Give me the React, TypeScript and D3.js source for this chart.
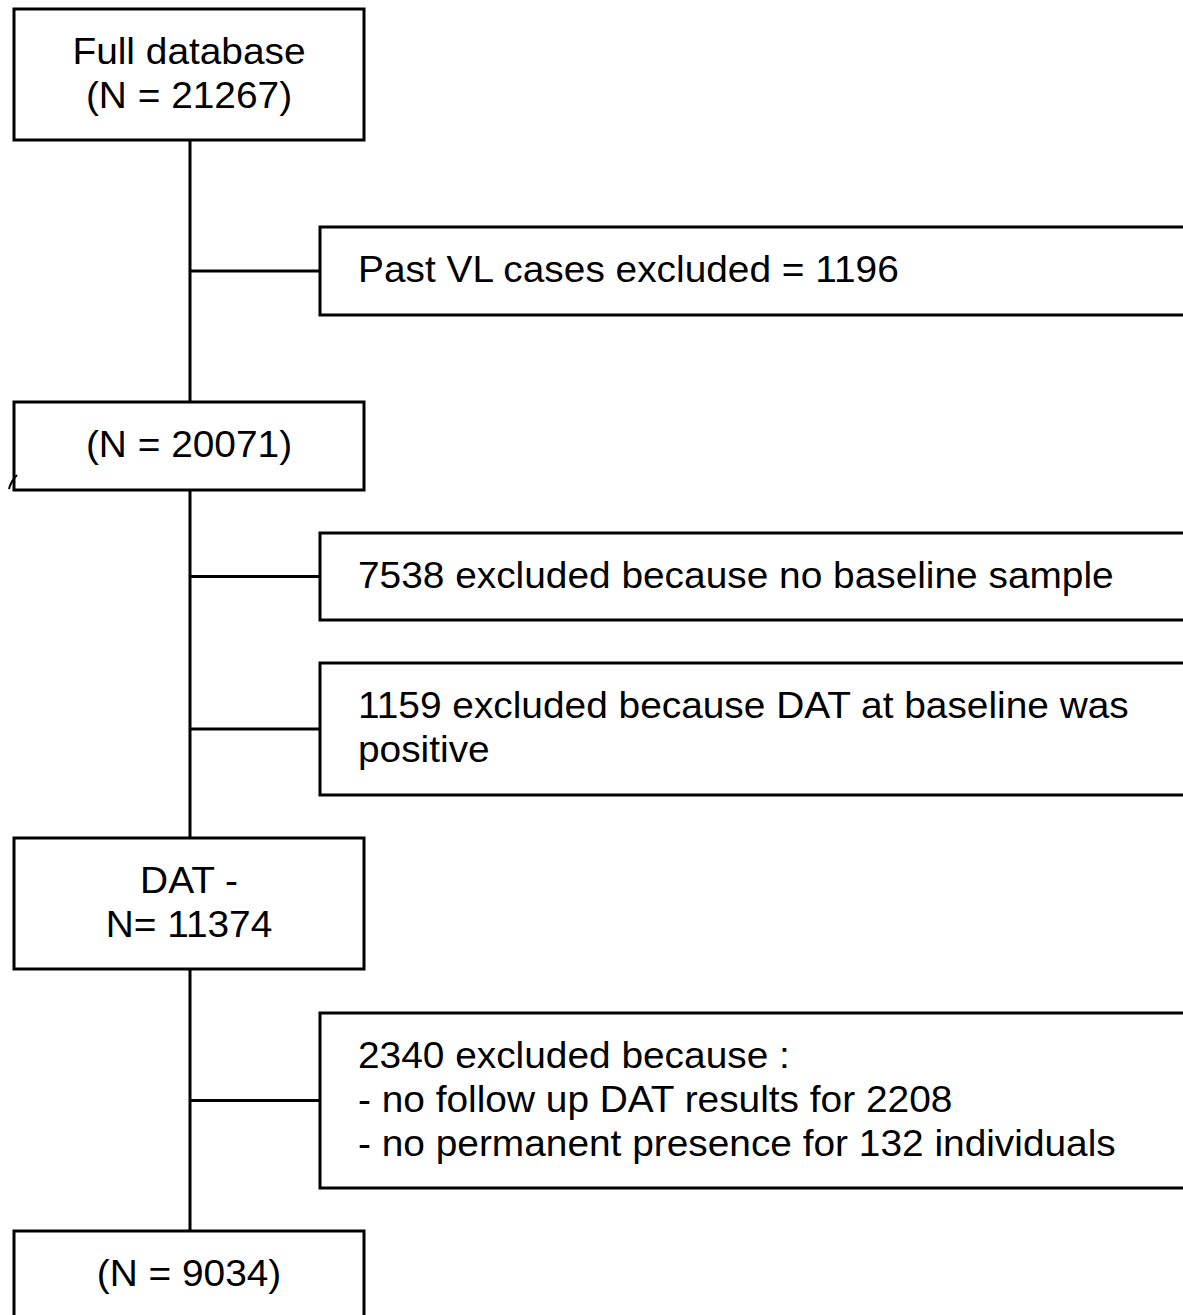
import React, { useEffect, useRef } from "react";
import * as d3 from "d3";

const width = 1183;
const height = 1315;

// box texts, top to bottom
const mainLabels: string[][] = [
  ["Full database", "(N = 21267)"],
  ["(N = 20071)"],
  ["DAT -", "N= 11374"],
  ["(N = 9034)"],
];

const sideLabels: string[][] = [
  ["Past VL cases excluded = 1196"],
  ["7538 excluded because no baseline sample"],
  ["1159 excluded because DAT at baseline was", "positive"],
  [
    "2340 excluded because :",
    "- no follow up DAT results for 2208",
    "- no permanent presence for 132 individuals",
  ],
];

// layout (tops / heights in px)
const mainTop = [9, 402, 838, 1231];
const mainHeight = [131, 88, 131, 88];
const sideTop = [227, 533, 663, 1013];
const sideHeight = [88, 87, 132, 175];

const layout = {
  mainLeft: 14,
  mainRight: 364,
  spineX: 190,
  sideLeft: 320,
  sideRight: 1200,
  textPad: 38,
  lineHeight: 44,
  fontSize: 37,
  stretch: 1.05,
  stroke: 3,
};

const FlowChart = () => {
  const ref = useRef<SVGSVGElement | null>(null);

  const chart = () => {
    const svg = d3
      .select(ref.current)
      .attr("width", width)
      .attr("height", height)
      .attr("viewBox", [0, 0, width, height].join(" "))
      .attr("style", "position:absolute;left:0;top:0;background:#fff");
    svg.selectAll("*").remove();

    svg.append("rect").attr("width", width).attr("height", height).attr("fill", "#fff");

    // spine
    svg
      .append("line")
      .attr("x1", layout.spineX)
      .attr("x2", layout.spineX)
      .attr("y1", mainTop[0])
      .attr("y2", mainTop[mainTop.length - 1])
      .attr("stroke", "#000")
      .attr("stroke-width", layout.stroke);

    // connectors to side boxes
    svg
      .append("g")
      .selectAll("line")
      .data(sideLabels)
      .join("line")
      .attr("x1", layout.spineX)
      .attr("x2", layout.sideLeft)
      .attr("y1", (_, i) => sideTop[i] + sideHeight[i] / 2)
      .attr("y2", (_, i) => sideTop[i] + sideHeight[i] / 2)
      .attr("stroke", "#000")
      .attr("stroke-width", layout.stroke);

    const font = "Liberation Sans, Arial, Helvetica, sans-serif";
    const baseOffset = layout.fontSize * 0.31;

    // main boxes
    const mains = svg.append("g").selectAll("g").data(mainLabels).join("g");
    mains
      .append("rect")
      .attr("x", layout.mainLeft)
      .attr("y", (_, i) => mainTop[i])
      .attr("width", layout.mainRight - layout.mainLeft)
      .attr("height", (_, i) => mainHeight[i])
      .attr("fill", "#fff")
      .attr("stroke", "#000")
      .attr("stroke-width", layout.stroke);
    mains.each(function (lines, i) {
      const cx = (layout.mainLeft + layout.mainRight) / 2;
      const cy = mainTop[i] + mainHeight[i] / 2;
      const first = cy - ((lines.length - 1) * layout.lineHeight) / 2 + baseOffset;
      d3.select(this)
        .append("g")
        .attr("transform", `translate(${cx},0) scale(${layout.stretch},1)`)
        .selectAll("text")
        .data(lines)
        .join("text")
        .attr("x", 0)
        .attr("y", (_, j) => first + j * layout.lineHeight)
        .attr("text-anchor", "middle")
        .attr("font-family", font)
        .attr("font-size", layout.fontSize)
        .attr("fill", "#000")
        .text((d) => d);
    });

    // side boxes
    const sides = svg.append("g").selectAll("g").data(sideLabels).join("g");
    sides
      .append("rect")
      .attr("x", layout.sideLeft)
      .attr("y", (_, i) => sideTop[i])
      .attr("width", layout.sideRight - layout.sideLeft)
      .attr("height", (_, i) => sideHeight[i])
      .attr("fill", "#fff")
      .attr("stroke", "#000")
      .attr("stroke-width", layout.stroke);
    sides.each(function (lines, i) {
      const cy = sideTop[i] + sideHeight[i] / 2;
      const first = cy - ((lines.length - 1) * layout.lineHeight) / 2 + baseOffset;
      d3.select(this)
        .append("g")
        .attr(
          "transform",
          `translate(${layout.sideLeft + layout.textPad},0) scale(${layout.stretch},1)`
        )
        .selectAll("text")
        .data(lines)
        .join("text")
        .attr("x", 0)
        .attr("y", (_, j) => first + j * layout.lineHeight)
        .attr("font-family", font)
        .attr("font-size", layout.fontSize)
        .attr("fill", "#000")
        .text((d) => d);
    });

    // small stray mark near second box
    svg
      .append("path")
      .attr("d", "M9,489 Q11,481 17,475")
      .attr("fill", "none")
      .attr("stroke", "#000")
      .attr("stroke-width", 2);
  };

  useEffect(() => {
    chart();
  }, []);

  return (
    <div>
      <svg ref={ref} />
    </div>
  );
};

export default function App() {
  return <FlowChart />;
}
